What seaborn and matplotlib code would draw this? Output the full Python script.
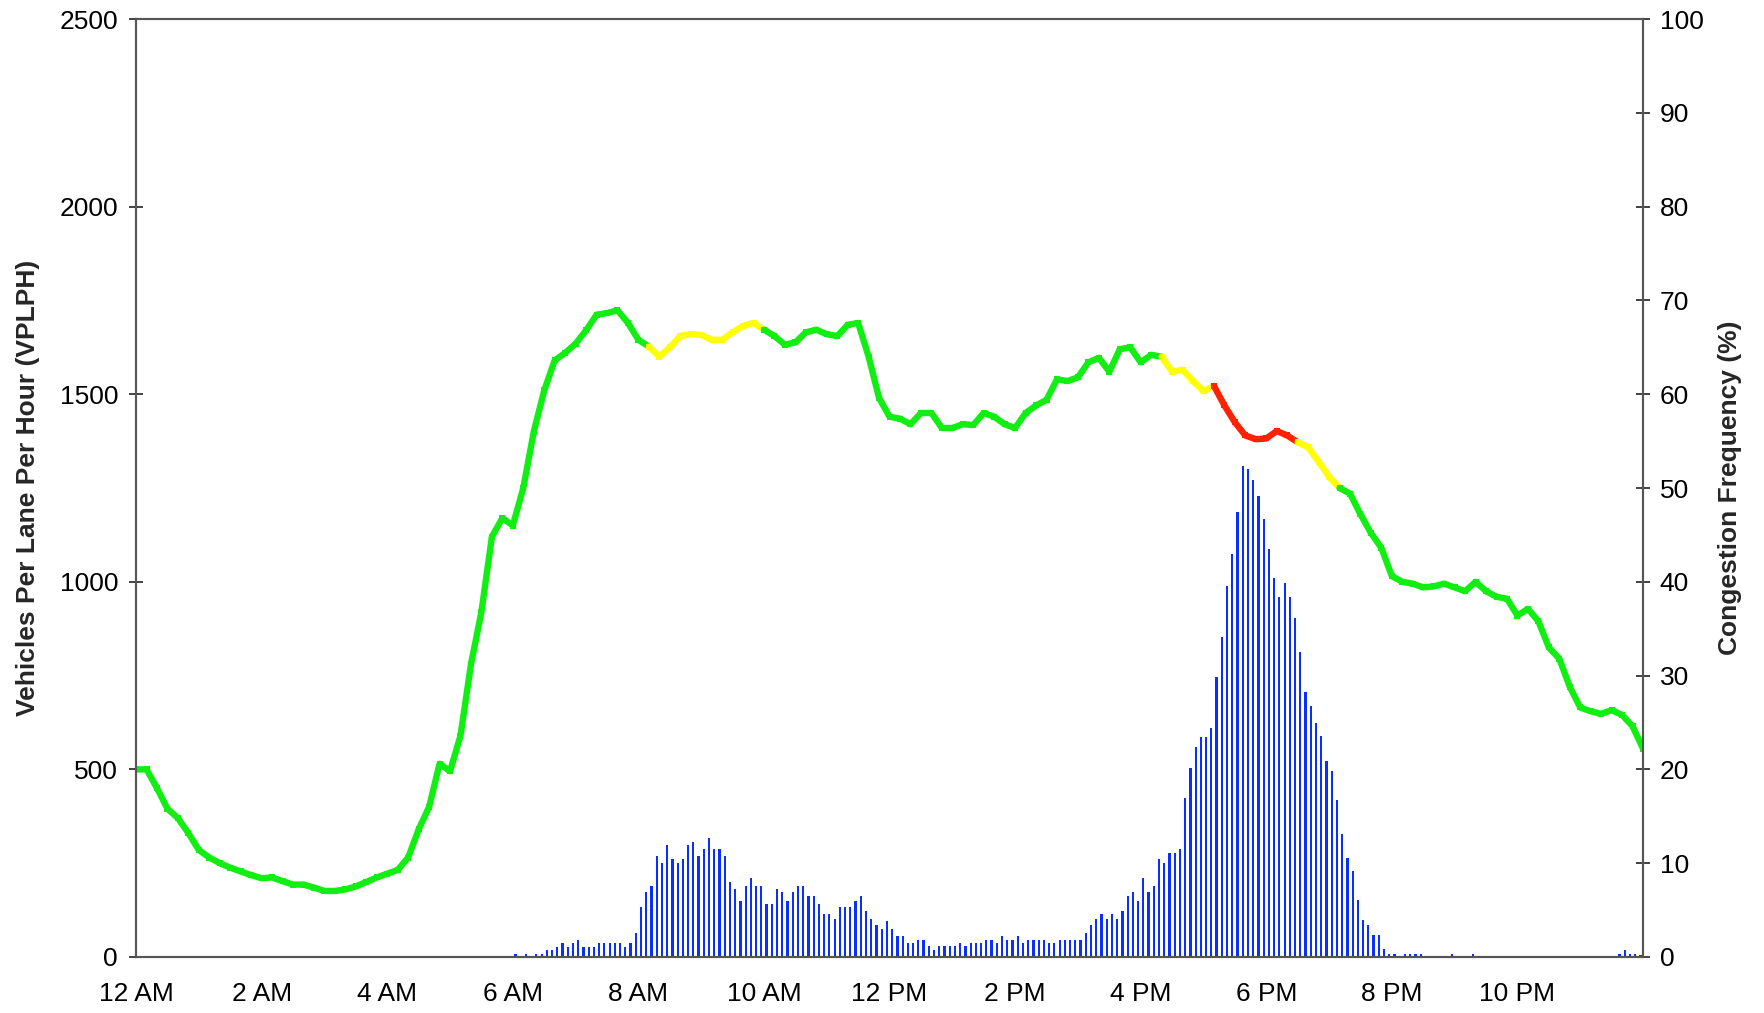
import matplotlib
matplotlib.use("Agg")
from matplotlib import pyplot as plt
import seaborn as sns
import pandas as pd
import numpy as np

# ------------------ data ------------------
# flow (VPLPH) every 10 minutes, 12 AM .. midnight
flow = [
    500, 500, 450, 395, 370, 330,        # 12 AM
    285, 265, 250, 238, 228, 218,        # 1 AM
    210, 212, 202, 193, 193, 185,        # 2 AM
    176, 176, 180, 188, 200, 212,        # 3 AM
    222, 232, 265, 340, 400, 515,        # 4 AM
    495, 590, 780, 920, 1120, 1170,      # 5 AM
    1150, 1250, 1400, 1510, 1590, 1610,  # 6 AM
    1635, 1670, 1712, 1716, 1724, 1690,  # 7 AM
    1645, 1627, 1600, 1625, 1655, 1660,  # 8 AM
    1658, 1645, 1645, 1665, 1682, 1690,  # 9 AM
    1672, 1655, 1632, 1638, 1665, 1672,  # 10 AM
    1660, 1655, 1685, 1690, 1600, 1490,  # 11 AM
    1440, 1435, 1420, 1450, 1450, 1410,  # 12 PM
    1410, 1420, 1418, 1450, 1440, 1420,  # 1 PM
    1410, 1450, 1470, 1485, 1540, 1535,  # 2 PM
    1545, 1585, 1597, 1560, 1620, 1625,  # 3 PM
    1585, 1605, 1600, 1560, 1565, 1535,  # 4 PM
    1508, 1522, 1470, 1425, 1390, 1380,  # 5 PM
    1382, 1402, 1390, 1372, 1358, 1320,  # 6 PM
    1280, 1250, 1235, 1180, 1130, 1090,  # 7 PM
    1015, 1000, 995, 985, 988, 995,      # 8 PM
    985, 975, 1000, 975, 960, 955,       # 9 PM
    910, 928, 895, 825, 795, 720,        # 10 PM
    665, 655, 648, 658, 645, 615,        # 11 PM
    555,
]
flow_hours = [i / 6 for i in range(len(flow))]

# congestion level along the flow line (start hour, end hour, level)
level_spans = [
    (0, 8 + 1/6, "green"),
    (8 + 1/6, 10, "yellow"),
    (10, 16 + 2/6, "green"),
    (16 + 2/6, 17 + 1/6, "yellow"),
    (17 + 1/6, 18.5, "red"),
    (18.5, 19 + 1/6, "yellow"),
    (19 + 1/6, 24, "green"),
]
level_colors = {"green": "#11ee11", "yellow": "#ffff00", "red": "#ff2200"}

# congestion frequency (%) per 5-minute bin, 6:00 AM .. 7:55 PM
bar_first_hour = 6
congestion = [
    0.3, 0, 0.3, 0, 0.3, 0.3, 0.7, 0.7, 1.1, 1.5, 1.1, 1.5,                  # 6 AM
    1.8, 1.1, 1.1, 1.1, 1.5, 1.5, 1.5, 1.5, 1.5, 1.1, 1.5, 2.6,              # 7 AM
    5.3, 6.9, 7.6, 10.8, 10.0, 11.9, 10.4, 10.0, 10.4, 11.9, 12.3, 10.8,     # 8 AM
    11.5, 12.65, 11.5, 11.5, 10.8, 8.0, 7.2, 6.0, 7.6, 8.4, 7.6, 7.6,        # 9 AM
    5.7, 5.7, 7.2, 6.9, 6.0, 6.9, 7.6, 7.6, 6.5, 6.5, 5.7, 4.55,             # 10 AM
    4.55, 4.1, 5.3, 5.3, 5.3, 6.0, 6.5, 4.9, 4.1, 3.4, 2.95, 3.8,            # 11 AM
    2.95, 2.2, 2.2, 1.46, 1.46, 1.8, 1.8, 1.14, 0.7, 1.14, 1.14, 1.14,       # 12 PM
    1.14, 1.46, 1.14, 1.46, 1.46, 1.46, 1.8, 1.8, 1.46, 2.2, 1.8, 1.8,       # 1 PM
    2.2, 1.46, 1.8, 1.8, 1.8, 1.8, 1.46, 1.46, 1.8, 1.8, 1.8, 1.8,           # 2 PM
    1.8, 2.6, 3.4, 4.1, 4.55, 4.1, 4.55, 4.1, 4.9, 6.5, 6.9, 6.0,            # 3 PM
    8.4, 6.9, 7.6, 10.4, 10.0, 11.05, 11.05, 11.5, 17.0, 20.1, 22.35, 23.5,  # 4 PM
    23.5, 24.4, 29.9, 34.1, 39.6, 43.0, 47.4, 52.4, 52.0, 50.9, 49.2, 46.7,  # 5 PM
    43.5, 40.4, 38.4, 39.9, 38.4, 36.1, 32.5, 28.3, 26.8, 24.9, 23.6, 20.9,  # 6 PM
    19.8, 16.7, 13.1, 10.5, 9.2, 6.1, 3.9, 3.45, 2.3, 2.3, 0.8, 0.36,        # 7 PM
]
# a few scattered late bins (start hour of bin, %)
late_hours = [20, 20 + 2/12, 20 + 3/12, 20 + 4/12, 20 + 5/12, 20 + 11/12, 21 + 3/12,
              23 + 7/12, 23 + 8/12, 23 + 9/12, 23 + 10/12, 23 + 11/12]
late_pct = [0.3, 0.3, 0.3, 0.3, 0.3, 0.3, 0.3, 0.36, 0.78, 0.36, 0.36, 0.25]

hour_labels = ["12 AM", "2 AM", "4 AM", "6 AM", "8 AM", "10 AM",
               "12 PM", "2 PM", "4 PM", "6 PM", "8 PM", "10 PM"]

# ------------------ build tables ------------------
flow_df = pd.DataFrame({"hour": flow_hours, "vplph": flow})
parts = []
palette = {}
for i, (a, b, lvl) in enumerate(level_spans):
    part = flow_df[(flow_df["hour"] >= a - 1e-9) & (flow_df["hour"] <= b + 1e-9)].copy()
    part["seg"] = f"{lvl}{i}"
    palette[f"{lvl}{i}"] = level_colors[lvl]
    parts.append(part)
line_df = pd.concat(parts, ignore_index=True)

bin_w = 1 / 12
bar_hours = [bar_first_hour + i * bin_w + bin_w / 2 for i in range(len(congestion))]
bar_hours += [h + bin_w / 2 for h in late_hours]
bar_pct = congestion + late_pct

# ------------------ plot ------------------
sns.set_style("white")
plt.rcParams["font.family"] = ["Liberation Sans", "DejaVu Sans"]

fig = plt.figure(figsize=(17.65, 10.13), dpi=100)
ax = fig.add_axes([0.0771, 0.0553, 0.8538, 0.9259])
ax2 = ax.twinx()

ax2.bar(bar_hours, bar_pct, width=bin_w * 0.42, color="#0a2eff", linewidth=0)

ax.set_zorder(ax2.get_zorder() + 1)
ax.patch.set_visible(False)
sns.lineplot(data=line_df, x="hour", y="vplph", hue="seg", palette=palette,
             estimator=None, sort=False, legend=False, linewidth=4.6,
             marker="s", markersize=4, markeredgewidth=0, ax=ax)

ax.set_xlim(0, 24)
ax.set_ylim(0, 2500)
ax2.set_ylim(0, 100)
ax.set_xticks(range(25))
ax.set_xticklabels([hour_labels[h // 2] if h % 2 == 0 and h < 24 else "" for h in range(25)])
ax.set_yticks(range(0, 2501, 500))
ax2.set_yticks(range(0, 101, 10))

for a in (ax, ax2):
    for sp in a.spines.values():
        sp.set_color("#555555")
        sp.set_linewidth(1.5)
    a.tick_params(direction="inout", length=10, width=1.2, color="#222222",
                  labelsize=19, labelcolor="black")
ax.tick_params(axis="x", pad=13)
ax.tick_params(axis="y", pad=8)
ax2.tick_params(axis="y", pad=7)

ax.set_xlabel("")
ax.set_ylabel("Vehicles Per Lane Per Hour (VPLPH)", fontsize=19, fontweight="bold")
ax.yaxis.set_label_coords(-0.064, 0.5)
ax2.set_ylabel("Congestion Frequency (%)", fontsize=19, fontweight="bold")
ax2.yaxis.set_label_coords(1.05, 0.5)

plt.savefig("out.png", dpi=100)
